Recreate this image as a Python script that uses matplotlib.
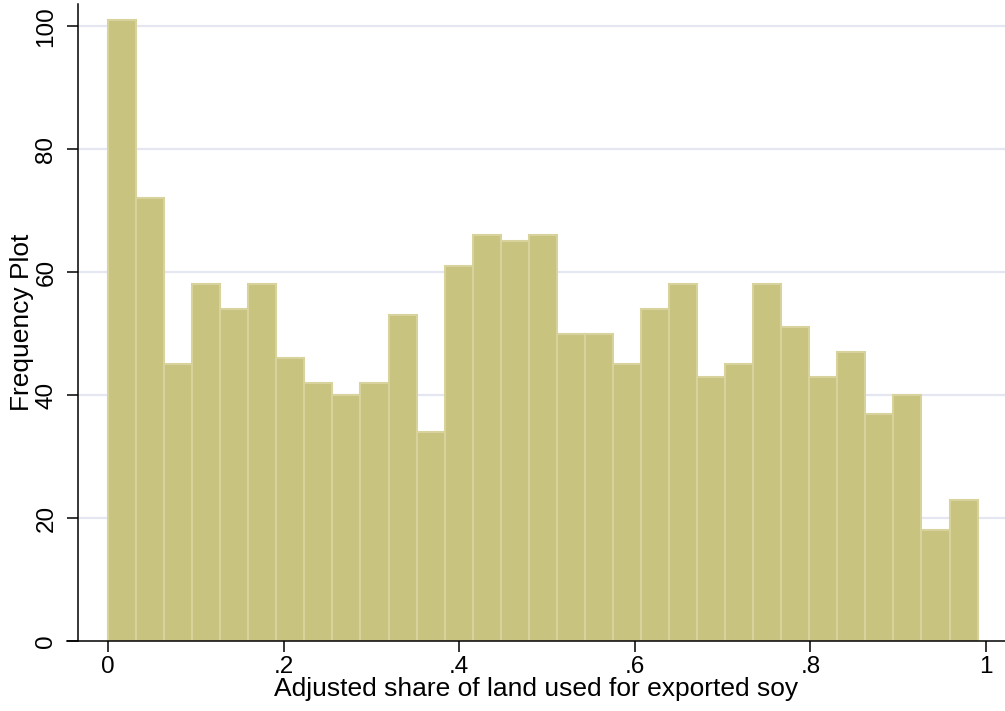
import numpy as np
import matplotlib.pyplot as plt

plt.rcParams['font.family'] = ['Liberation Sans', 'DejaVu Sans']

# histogram counts, 31 bins starting at 0
counts = [101, 72, 45, 58, 54, 58, 46, 42, 40, 42, 53, 34, 61, 66, 65, 66,
          50, 50, 45, 54, 58, 43, 45, 58, 51, 43, 47, 37, 40, 18, 23]
bin_start = 0.0
bin_width = 0.03195

xticks = [0, 0.2, 0.4, 0.6, 0.8, 1.0]
xtick_labels = ['0', '.2', '.4', '.6', '.8', '1']
yticks = [0, 20, 40, 60, 80, 100]

fill_col = '#c9c380'
edge_col = '#d8d39c'
grid_col = '#e4e7f2'

fig = plt.figure(figsize=(10.05, 7.11), dpi=100)
ax = fig.add_axes([67 / 1005, (711 - 641) / 711, (1005 - 67) / 1005, (641 - 4) / 711])

xmin, xmax = -0.0467, 1.0217
yaxis_x = -0.034
ax.set_xlim(xmin, xmax)
ax.set_ylim(0, 103.6)

# grid lines (not at zero)
for y in yticks[1:]:
    ax.hlines(y, yaxis_x, xmax, color=grid_col, lw=1.6, zorder=0)

left_edges = bin_start + bin_width * np.arange(len(counts))
ax.bar(left_edges, counts, width=bin_width, align='edge',
       color=fill_col, edgecolor=edge_col, linewidth=1.5, zorder=2)

for s in ['top', 'right']:
    ax.spines[s].set_visible(False)
ax.spines['left'].set_position(('data', yaxis_x))
ax.spines['left'].set_linewidth(1.1)
ax.spines['bottom'].set_linewidth(1.1)

ax.set_xticks(xticks)
ax.set_xticklabels(xtick_labels)
ax.set_yticks(yticks)
ax.set_yticklabels([str(v) for v in yticks], rotation=90, va='center')
ax.tick_params(axis='both', labelsize=17.5, length=8, width=1.1, colors='black')
ax.tick_params(axis='x', pad=3)
ax.tick_params(axis='y', pad=7)

ax.set_xlabel('Adjusted share of land used for exported soy', fontsize=19, labelpad=-1)
ax.set_ylabel('Frequency Plot', fontsize=19, labelpad=1)

plt.savefig('out.png', dpi=100)
plt.close()
